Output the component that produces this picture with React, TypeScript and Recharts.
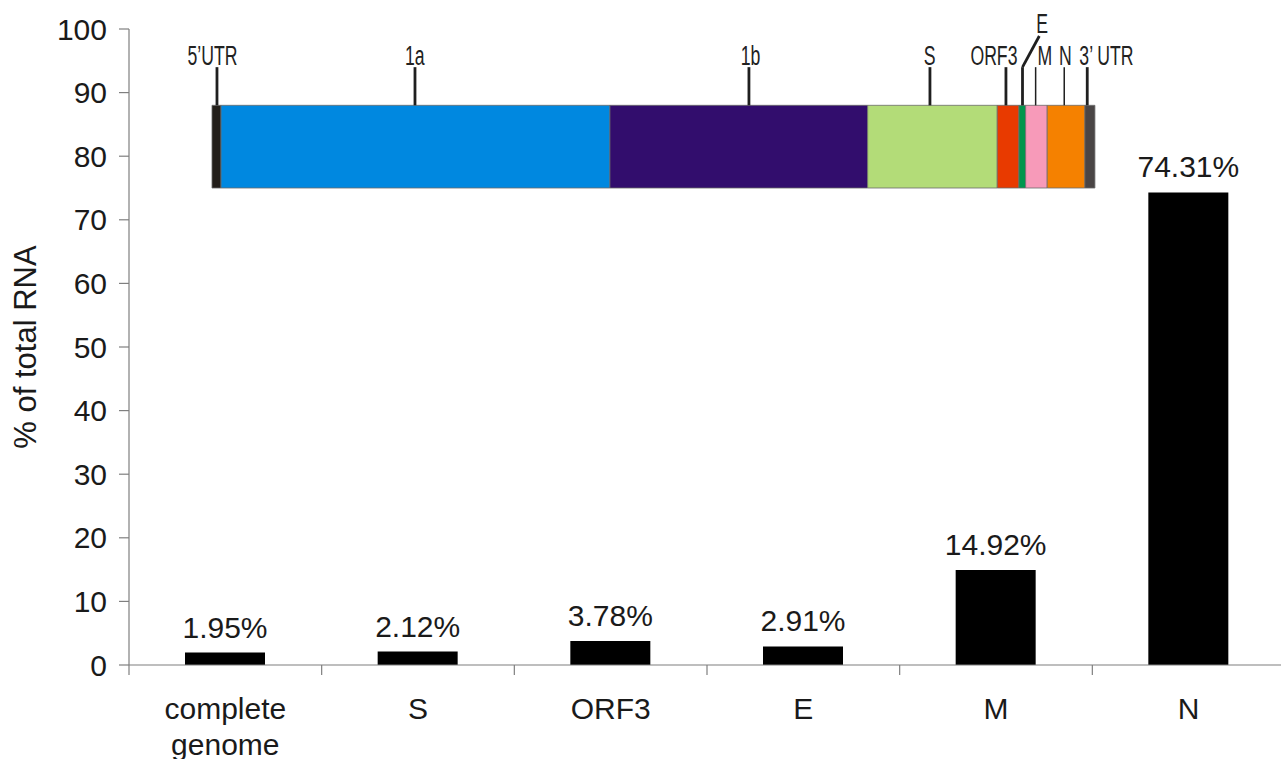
import { BarChart, Bar, XAxis, YAxis, LabelList, ReferenceArea, ReferenceLine, ReferenceDot } from 'recharts';

// bar data: share of total RNA per transcript (%)
const categories = ['complete genome', 'S', 'ORF3', 'E', 'M', 'N'];
const rnaShare = [1.95, 2.12, 3.78, 2.91, 14.92, 74.31];
const yTicks = [0, 10, 20, 30, 40, 50, 60, 70, 80, 90, 100];

// genome map (nucleotide positions, approximate)
const segmentNames = ['5’UTR', '1a', '1b', 'S', 'ORF3', 'E', 'M', 'N', '3’ UTR'];
const segmentStart = [0, 282, 12453, 20516, 24572, 25250, 25460, 26135, 27315];
const segmentEnd = [282, 12453, 20516, 24572, 25250, 25460, 26135, 27315, 27628];
const segmentColors = ['#231f1a', '#0088e0', '#320d6d', '#b3dc78', '#e83a00', '#00964d', '#f79ab9', '#f58100', '#4a4545'];
const markerPos = [156, 6352, 16802, 22466, 24844, 25362, 25773, 26668, 27388];
const labelPos = [16, 6343, 16849, 22456, 24468, 25973, 26060, 26700, 27988];
const thinMarkers = ['M', 'N'];

const data = categories.map((name, i) => ({ name, value: rnaShare[i] }));

const FONT = '"Liberation Sans", Arial, sans-serif';
const CHART_W = 1300;
const CHART_H = 759;
const MARGIN = { top: 29, right: 15, bottom: 0, left: 0 };
const Y_AXIS_W = 129;
const PLOT_W = CHART_W - MARGIN.left - MARGIN.right - Y_AXIS_W;
const step = PLOT_W / categories.length;

const BAR_BOTTOM = 75;
const BAR_TOP = 88;
const MARKER_TOP = 94;

const CategoryTick = (props: any) => {
  const { x, y, payload } = props;
  const lines = String(payload.value).split(' ');
  return (
    <g>
      <line x1={x - step / 2} x2={x - step / 2} y1={y - 10} y2={y} stroke="#7f7f7f" strokeWidth={1.2} />
      <text x={x} y={y} textAnchor="middle" fontSize={30} fill="#1a1a1a" fontFamily={FONT}>
        {lines.map((l, i) => (
          <tspan key={i} x={x} dy={i === 0 ? 44 : 36}>
            {l}
          </tspan>
        ))}
      </text>
    </g>
  );
};

// narrow, condensed-looking labels for the genome map
const GenomeLabel = (text: string) => (props: any) => {
  const { cx, cy } = props;
  return (
    <text
      transform={`translate(${cx}, ${cy}) scale(0.63, 1)`}
      textAnchor="middle"
      fontSize={28}
      fill="#222"
      fontFamily={FONT}
    >
      {text}
    </text>
  );
};

const YLabel = (props: any) => {
  const { viewBox } = props;
  const cx = viewBox.x + 25;
  const cy = viewBox.y + viewBox.height / 2;
  return (
    <text
      x={cx}
      y={cy}
      transform={`rotate(-90, ${cx}, ${cy})`}
      textAnchor="middle"
      dominantBaseline="central"
      fontSize={31}
      fill="#1a1a1a"
      fontFamily={FONT}
    >
      % of total RNA
    </text>
  );
};

export default function App() {
  // genome axis: map so the genome bar sits inside the plot like the original
  const genomeDomain = [-2597, 33576];

  return (
    <div style={{ position: 'absolute', left: 0, top: 0, width: 1281, height: 759, overflow: 'hidden', background: '#fff' }}>
      <BarChart width={CHART_W} height={CHART_H} data={data} margin={MARGIN}>
        <XAxis
          dataKey="name"
          height={94}
          tickSize={10}
          tickMargin={0}
          tickLine={false}
          axisLine={{ stroke: '#7f7f7f', strokeWidth: 1.2 }}
          tick={<CategoryTick />}
          interval={0}
        />
        <XAxis xAxisId="genome" dataKey="genomePos" type="number" domain={genomeDomain} hide allowDataOverflow />
        <YAxis
          width={Y_AXIS_W}
          domain={[0, 100]}
          ticks={yTicks}
          interval={0}
          tickSize={10}
          tickMargin={12}
          axisLine={{ stroke: '#7f7f7f', strokeWidth: 1.2 }}
          tickLine={{ stroke: '#7f7f7f', strokeWidth: 1.2 }}
          tick={{ fontSize: 30, fill: '#1a1a1a', fontFamily: FONT }}
          label={{ content: YLabel }}
        />
        <Bar dataKey="value" fill="#000" barSize={80} isAnimationActive={false}>
          <LabelList
            dataKey="value"
            position="top"
            offset={15}
            formatter={(v: any) => `${Number(v).toFixed(2)}%`}
            style={{ fontSize: 30, fill: '#1a1a1a', fontFamily: FONT }}
          />
        </Bar>

        {segmentNames.map((name, i) => (
          <ReferenceArea
            key={`seg-${name}`}
            xAxisId="genome"
            x1={segmentStart[i]}
            x2={segmentEnd[i]}
            y1={BAR_BOTTOM}
            y2={BAR_TOP}
            fill={segmentColors[i]}
            fillOpacity={1}
            stroke="#6b6b6b"
            strokeWidth={0.8}
          />
        ))}

        {segmentNames.map((name, i) => (
          <ReferenceLine
            key={`mk-${name}`}
            xAxisId="genome"
            segment={[
              { x: markerPos[i], y: BAR_TOP },
              { x: markerPos[i], y: MARKER_TOP },
            ]}
            stroke="#1f1f1f"
            strokeWidth={thinMarkers.includes(name) ? 1.5 : 2.8}
          />
        ))}
        <ReferenceLine
          xAxisId="genome"
          segment={[
            { x: markerPos[5], y: MARKER_TOP },
            { x: 25888, y: 98.9 },
          ]}
          stroke="#1f1f1f"
          strokeWidth={2.8}
        />

        {segmentNames.map((name, i) => (
          <ReferenceDot
            key={`lb-${name}`}
            xAxisId="genome"
            x={labelPos[i]}
            y={name === 'E' ? 99.4 : 94.3}
            r={0}
            shape={GenomeLabel(name)}
          />
        ))}
      </BarChart>
    </div>
  );
}
